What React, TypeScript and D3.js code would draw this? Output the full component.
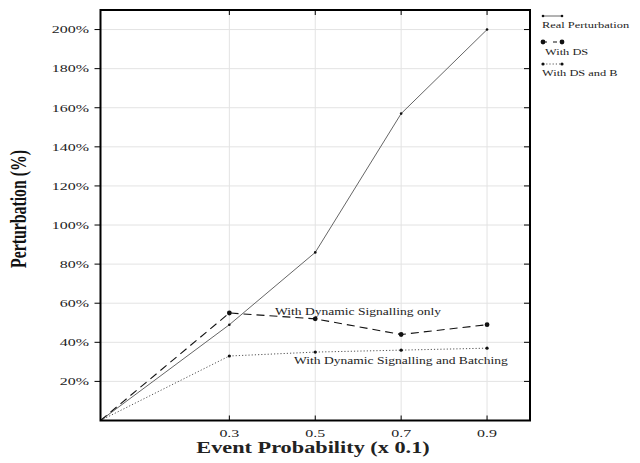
import React from "react";
import * as d3 from "d3";

const xValues = [0, 0.3, 0.5, 0.7, 0.9];
const realPerturbation = [0, 49, 86, 157, 200];
const withDS = [0, 55, 52, 44, 49];
const withDSandB = [0, 33, 35, 36, 37];
const xTicks = [0.3, 0.5, 0.7, 0.9];
const yTicks = [20, 40, 60, 80, 100, 120, 140, 160, 180, 200];
const legendLabels = ["Real Perturbation", "With DS", "With DS and B"];

const W = 640, H = 463;
const L = 100.5, R = 530, T = 10, B = 420.5;
const serif = "'Liberation Serif', 'DejaVu Serif', serif";

function SText(props: { x: number; y: number; sx: number; size: number; anchor?: string; weight?: string; children: React.ReactNode }) {
  return (
    <text
      transform={`translate(${props.x},${props.y}) scale(${props.sx},1)`}
      textAnchor={props.anchor || "start"}
      fontSize={props.size}
      fontWeight={props.weight || "normal"}
      fill="#222"
    >
      {props.children}
    </text>
  );
}

export default function App() {
  const x = d3.scaleLinear().domain([0, 1.0]).range([L, R]);
  const y = d3.scaleLinear().domain([0, 210]).range([B, T]);
  const line = d3.line<[number, number]>().x(d => x(d[0])).y(d => y(d[1]));
  const pts = (vals: number[]) => xValues.map((v, i) => [v, vals[i]] as [number, number]);

  const series = [
    { vals: realPerturbation, dash: "none", color: "#666", width: 1, r: 1.3 },
    { vals: withDS, dash: "8,5", color: "#111", width: 1.1, r: 2.4 },
    { vals: withDSandB, dash: "1.2,2", color: "#555", width: 1, r: 1.6 },
  ];

  return (
    <svg width={W} height={H} style={{ position: "absolute", left: 0, top: 0 }} fontFamily={serif}>
      <rect width={W} height={H} fill="#fff" />
      {xTicks.map(t => (
        <line key={"gx" + t} x1={x(t)} x2={x(t)} y1={T} y2={B} stroke="#e3e3e3" strokeWidth={1} />
      ))}
      {yTicks.map(t => (
        <line key={"gy" + t} x1={L} x2={R} y1={y(t)} y2={y(t)} stroke="#e3e3e3" strokeWidth={1} />
      ))}
      {series.map((s, i) => (
        <g key={"s" + i}>
          <path d={line(pts(s.vals)) || ""} fill="none" stroke={s.color} strokeWidth={s.width} strokeDasharray={s.dash} />
          {pts(s.vals).slice(1).map((p, j) => (
            <circle key={j} cx={x(p[0])} cy={y(p[1])} r={s.r} fill="#111" />
          ))}
        </g>
      ))}
      <rect x={L} y={T} width={R - L} height={B - T} fill="none" stroke="#000" strokeWidth={2} />
      {yTicks.map(t => (
        <g key={"yt" + t}>
          <line x1={L - 6} x2={L} y1={y(t)} y2={y(t)} stroke="#000" strokeWidth={1} />
          <line x1={R - 6} x2={R} y1={y(t)} y2={y(t)} stroke="#000" strokeWidth={1} />
          <SText x={89} y={y(t) + 3.8} sx={1.45} size={11} anchor="end">{t}%</SText>
        </g>
      ))}
      {xTicks.map(t => (
        <g key={"xt" + t}>
          <line x1={x(t)} x2={x(t)} y1={B} y2={B - 5} stroke="#000" strokeWidth={1} />
          <line x1={x(t)} x2={x(t)} y1={T} y2={T + 5} stroke="#000" strokeWidth={1} />
          <SText x={x(t)} y={437} sx={1.45} size={11} anchor="middle">{t}</SText>
        </g>
      ))}
      <SText x={313} y={453} sx={1.35} size={16.5} anchor="middle" weight="bold">Event Probability (x 0.1)</SText>
      <text
        transform="translate(26,209) rotate(-90) scale(1,1.45)"
        textAnchor="middle"
        fontSize={16}
        fontWeight="bold"
        fill="#111"
        textLength={118}
        lengthAdjust="spacingAndGlyphs"
      >
        Perturbation (%)
      </text>
      <SText x={275} y={315} sx={1.29} size={10.5}>With Dynamic Signalling only</SText>
      <SText x={294} y={364} sx={1.29} size={10.5}>With Dynamic Signalling and Batching</SText>
      {series.map((s, i) => {
        const ly = [16, 42, 64][i];
        const ty = [28, 55, 76][i];
        return (
          <g key={"lg" + i}>
            <line x1={543} x2={562} y1={ly} y2={ly} stroke={s.color} strokeWidth={s.width} strokeDasharray={s.dash === "8,5" ? "4,6" : s.dash} />
            <circle cx={543} cy={ly} r={s.r} fill="#111" />
            <circle cx={562} cy={ly} r={s.r} fill="#111" />
            <SText x={i === 1 ? 545 : 542} y={ty} sx={1.46} size={8.5}>{legendLabels[i]}</SText>
          </g>
        );
      })}
    </svg>
  );
}
